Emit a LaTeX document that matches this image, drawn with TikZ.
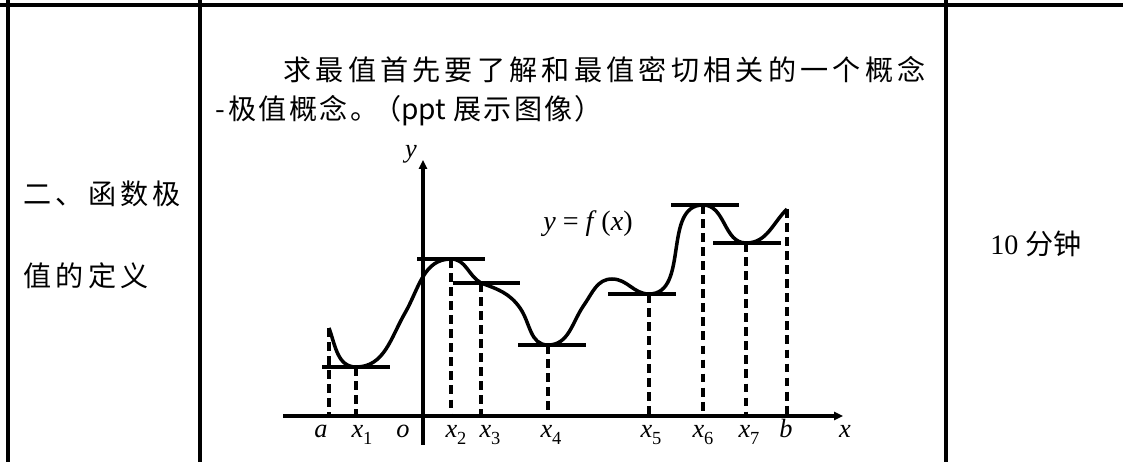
\documentclass[tikz,border=0pt]{standalone}
\usepackage{fontspec}
\setmainfont{Liberation Serif}
\newfontfamily\cjk{Noto Sans CJK SC}[LetterSpace=15]
\newfontfamily\cjkm{Noto Sans CJK SC}[LetterSpace=8]
\newfontfamily\cjkn{Noto Sans CJK SC}
\usetikzlibrary{
	arrows.meta,
	calc,
	}

\newcommand\xsub[1]{\textit{x}\raisebox{-0.55ex}{\fontsize{10.5pt}{10.5pt}\selectfont #1}}

\tikzset{
	rule/.style={line width=1.8pt},
	curve/.style={line width=2pt},
	axis/.style={line width=2pt},
	flat/.style={line width=2pt},
	drop/.style={line width=1.9pt, dash pattern=on 5pt off 3pt},
	lbl/.style={anchor=base, inner sep=0pt, font=\fontsize{15pt}{15pt}\selectfont},
	txt/.style={anchor=base west, inner sep=0pt, font=\fontsize{16pt}{16pt}\selectfont\cjk},
}

\begin{document}
\begin{tikzpicture}[x=0.02cm, y=0.02cm]
			\useasboundingbox (0,0) rectangle (1123,-462);

			% table rules
			\draw[rule] (0,-5) -- (1123,-5);
			\foreach \c in {8,200,946}
				\draw[rule] (\c,0) -- (\c,-462);

			\node[txt] (line1) at (283,-81) {求最值首先要了解和最值密切相关的一个概念};
			\node[txt, font=\fontsize{16pt}{16pt}\selectfont\cjkm] (line2) at (215,-120) {-\kern2pt 极值概念。};
			\node[txt, font=\fontsize{16pt}{16pt}\selectfont\cjkm] (line2b) at (373,-120) {（{\cjkn ppt}\hspace{4pt}展示图像）};
			\node[txt] (sec1) at (23,-205) {二、函数极};
			\node[txt] (sec2) at (23,-287) {值的定义};
			\node[anchor=base west, inner sep=0pt, font=\fontsize{16pt}{16pt}\selectfont] (time) at (990,-255) {10 {\cjkn 分钟}};

			% graph points
			\coordinate (O) at (423,-416);
			\coordinate (xs) at (283,-416);
			\coordinate (xe) at (843,-416);
			\coordinate (ys) at (423,-445);
			\coordinate (ye) at (423,-160);
			\coordinate (A) at (329,-328);
			\coordinate (X1) at (356,-367);
			\coordinate (C1) at (405,-313);
			\coordinate (X2) at (451,-259);
			\coordinate (X3) at (481,-283);
			\coordinate (Q1) at (520,-308);
			\coordinate (X4) at (548,-345);
			\coordinate (Q2) at (584,-305);
			\coordinate (P) at (612,-279);
			\coordinate (X5) at (649,-294);
			\coordinate (X6) at (703,-205);
			\coordinate (X7) at (746,-243);
			\coordinate (B) at (787,-209);

			\foreach \p in {A,X1,X2,X3,X4,X5,X6,X7,B}
				\draw[drop] (\p) -- (\p |- O);

			\draw[curve] (A) to[out=-70,in=180] (X1) to[out=0,in=240] (C1) to[out=60,in=180] (X2)
				to[out=0,in=150] (X3) to[out=-20,in=125] (Q1) to[out=-55,in=180] (X4)
				to[out=0,in=235] (Q2) to[out=55,in=180] (P) to[out=0,in=180] (X5)
				to[out=0,in=180] (X6) to[out=0,in=180] (X7) to[out=0,in=225] (B);

			\foreach \p/\l/\r in {X1/34/34, X2/34/34, X3/28/39, X4/30/38, X5/41/27, X6/32/36, X7/33/35}
				\draw[flat] ($(\p)+(-\l,0)$) -- ($(\p)+(\r,0)$);

			\draw[axis, -{Triangle[length=5pt,width=4.5pt]}] (xs) -- (xe);
			\draw[axis, -{Triangle[length=5pt,width=4.5pt]}] (ys) -- (ye);

			\node[lbl] (la) at (321,-438) {\textit{a}};
			\node[lbl] (l1) at (362,-438) {\xsub{1}};
			\node[lbl] (lo) at (403,-438) {\textit{o}};
			\node[lbl] (l2) at (456,-438) {\xsub{2}};
			\node[lbl] (l3) at (490,-438) {\xsub{3}};
			\node[lbl] (l4) at (551,-438) {\xsub{4}};
			\node[lbl] (l5) at (651,-438) {\xsub{5}};
			\node[lbl] (l6) at (703,-438) {\xsub{6}};
			\node[lbl] (l7) at (749,-438) {\xsub{7}};
			\node[lbl] (lb) at (786,-438) {\textit{b}};
			\node[lbl] (lx) at (845,-438) {\textit{x}};
			\node[lbl] (ly) at (411,-158) {\textit{y}};
			\node[lbl, font=\fontsize{16pt}{16pt}\selectfont] (fx) at (588,-231) {\textit{y} = \textit{f}\,(\textit{x})};

		\end{tikzpicture}
\end{document}
